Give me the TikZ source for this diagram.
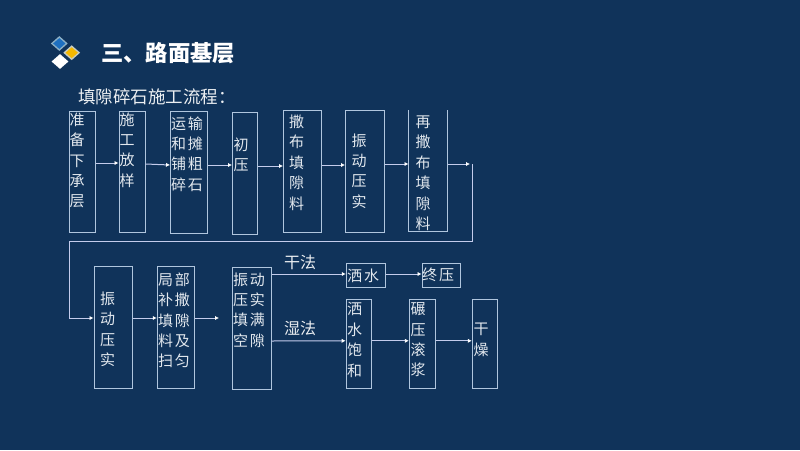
\documentclass[tikz,border=0pt]{standalone}
\usepackage{fontspec}
\setmainfont{Noto Sans CJK SC}
\usepackage{xcolor}
\usetikzlibrary{arrows.meta, shapes.geometric}
\definecolor{slidebg}{RGB}{16,51,90}
\definecolor{boxline}{RGB}{176,198,222}
\definecolor{arrowline}{RGB}{196,204,236}
\definecolor{boxtext}{RGB}{226,232,238}
\definecolor{logoblue}{RGB}{30,112,192}
\definecolor{logoyellow}{RGB}{245,184,0}
\definecolor{logoedge}{RGB}{140,176,198}
\definecolor{logoedgeb}{RGB}{200,204,190}

\begin{document}
\begin{tikzpicture}[
        x=1pt, y=-1pt,
        flowbox/.style={rectangle, draw=boxline, line width=1pt, text=boxtext, inner sep=0pt, align=left, font=\fontsize{15}{20.4}\selectfont},
        line/.style={draw=arrowline, line width=1pt, -{Latex[length=1.4mm, width=1.5mm, color=white]}},
        turn/.style={draw=arrowline, line width=1pt},
        logo/.style={diamond, inner sep=0pt, minimum width=17pt, minimum height=15pt},
        logoin/.style={diamond, inner sep=0pt, minimum width=12.5pt, minimum height=11pt}
    ]
    \fill[slidebg] (0,0) rectangle (800,450);
    \useasboundingbox (0,0) rectangle (800,450);

    % 标题
    \node[logo, fill=white] (logo_white) at (60,61.5) {};
    \node[logo, fill=logoedge] (logo_blue) at (59.3,43.5) {};
    \node[logoin, fill=logoblue] (logo_blue_in) at (59.3,43.5) {};
    \node[logo, fill=logoedgeb] (logo_yellow) at (71.7,52.7) {};
    \node[logoin, fill=logoyellow] (logo_yellow_in) at (71.7,52.7) {};
    \node[text=white, font=\fontsize{22.3}{24}\selectfont\bfseries, anchor=west, inner sep=0pt] (title) at (101,53) {三、路面基层};
    \node[text=white!92!slidebg, font=\fontsize{17.5}{20}\selectfont, anchor=west, inner sep=0pt] (subtitle) at (78,97) {填隙碎石施工流程：};

    % 第一行
    \node[flowbox, minimum width=26pt, minimum height=121pt, text width=25pt] (prepare) at (82,171.5) {准\\备\\下\\承\\层\par\vspace{22pt}};
    \node[flowbox, minimum width=26pt, minimum height=121pt, text width=25pt] (setout) at (132,171.5) {施\\工\\放\\样\par\vspace{43pt}};
    \node[flowbox, minimum width=37pt, minimum height=122pt, text width=36pt] (spread) at (189,172) {运\hspace{2pt}输\\和\hspace{2pt}摊\\铺\hspace{2pt}粗\\碎\hspace{2pt}石\par\vspace{36pt}};
    \node[flowbox, minimum width=25pt, minimum height=122pt, text width=23pt] (firstroll) at (245,173) {初\\压\par\vspace{36pt}};
    \node[flowbox, minimum width=38pt, minimum height=122pt, text width=27pt] (fillone) at (302.5,171) {撒\\布\\填\\隙\\料\par\vspace{17pt}};
    \node[flowbox, minimum width=39pt, minimum height=122pt, text width=27pt] (vibone) at (365,171) {振\\动\\压\\实};
    % 这个框没有上边
    \node[text=boxtext, inner sep=0pt, align=left, font=\fontsize{15}{20.4}\selectfont, minimum width=38.6pt, minimum height=121pt, text width=25pt] (filltwo) at (428,170.5) {\rule{0pt}{17pt}再\\撒\\布\\填\\隙\\料};
    \draw[boxline, line width=1pt] (filltwo.north west) -- (filltwo.south west) -- (filltwo.south east) -- (filltwo.north east);

    % 第二行
    \node[flowbox, minimum width=38pt, minimum height=122pt, text width=26pt] (vibtwo) at (113,327) {\rule{0pt}{17pt}振\\动\\压\\实};
    \node[flowbox, minimum width=37.4pt, minimum height=122pt, text width=36pt] (sweep) at (176,327.8) {局\hspace{2pt}部\\补\hspace{2pt}撒\\填\hspace{2pt}隙\\料\hspace{2pt}及\\扫\hspace{2pt}匀\par\vspace{15pt}};
    \node[flowbox, minimum width=38.4pt, minimum height=122pt, text width=38pt] (vibfill) at (252,328) {振\hspace{2pt}动\\压\hspace{2pt}实\\填\hspace{2pt}满\\空\hspace{2pt}隙\par\vspace{36pt}};

    % 干法
    \node[flowbox, minimum width=39.4pt, minimum height=23.4pt, text width=38pt] (drywater) at (366,275.4) {洒\hspace{2pt}水};
    \node[flowbox, minimum width=38pt, minimum height=23.6pt, text width=38pt] (finalroll) at (441,275.2) {终\hspace{2pt}压};

    % 湿法
    \node[flowbox, minimum width=25.7pt, minimum height=89pt, text width=24pt] (wetwater) at (359,343.8) {洒\\水\\饱\\和\par\vspace{8pt}};
    \node[flowbox, minimum width=25.7pt, minimum height=89pt, text width=23pt] (slurry) at (422.2,343.8) {碾\\压\\滚\\浆\par\vspace{8pt}};
    \node[flowbox, minimum width=25.4pt, minimum height=89pt, text width=23pt] (dry) at (485,343.8) {干\\燥\par\vspace{8pt}};

    \node[text=white!92!slidebg, font=\fontsize{16}{18}\selectfont, inner sep=0pt] (drylabel) at (300,262) {干法};
    \node[text=white!92!slidebg, font=\fontsize{16}{18}\selectfont, inner sep=0pt] (wetlabel) at (300,328) {湿法};

    % 转折点
    \coordinate (turn_a) at (470,164);
    \coordinate (turn_b) at (472.3,164);
    \coordinate (turn_c) at (472.3,241.7);
    \coordinate (turn_d) at (69,241.7);
    \coordinate (sweep_end) at (219,318);

    % 连接
    \path [line] ([yshift=8.5pt]prepare.east) -- ([yshift=8.5pt]setout.west);
    \path [line] ([yshift=7.5pt]setout.east) -- ([yshift=7pt]spread.west);
    \path [line] ([yshift=7pt]spread.east) -- ([yshift=8pt]firstroll.west);
    \path [line] ([yshift=7pt]firstroll.east) -- ([yshift=5pt]fillone.west);
    \path [line] ([yshift=6pt]fillone.east) -- ([yshift=6pt]vibone.west);
    \path [line] ([yshift=7pt]vibone.east) -- ([yshift=6.5pt]filltwo.west);
    \path [line] ([yshift=6.5pt]filltwo.east) -- (turn_a);
    \path [turn] (turn_b) -- (turn_c) -- (turn_d);
    \path [line] (turn_d) |- ([yshift=9pt]vibtwo.west);
    \path [line] ([yshift=9pt]vibtwo.east) -- ([yshift=9.8pt]sweep.west);
    \path [line] ([yshift=9.8pt]sweep.east) -- (sweep_end);
    \path [line] ([yshift=54pt]vibfill.east) -- ([yshift=1.4pt]drywater.west);
    \path [line, line width=0.7pt] ([yshift=1.4pt]drywater.east) -- ([yshift=1.2pt]finalroll.west);
    \path [line] ([yshift=-13pt]vibfill.east) -- ([yshift=3pt]wetwater.west);
    \path [line] ([yshift=3pt]wetwater.east) -- ([yshift=3pt]slurry.west);
    \path [line] ([yshift=3pt]slurry.east) -- ([yshift=3pt]dry.west);
\end{tikzpicture}
\end{document}
